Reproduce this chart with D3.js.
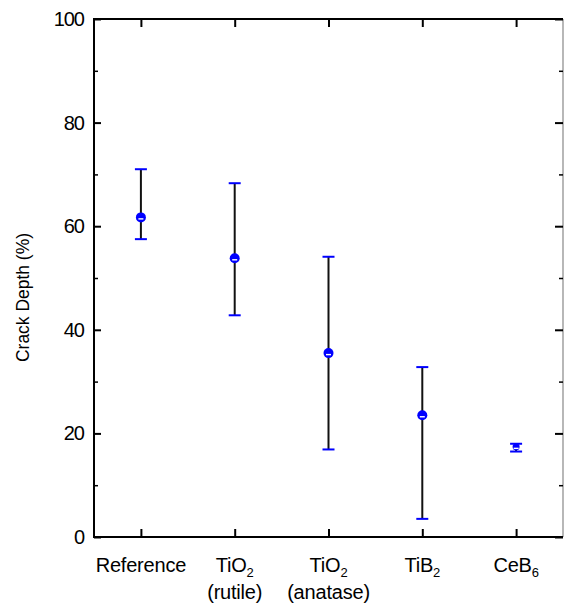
<!DOCTYPE html>
<html>
<head>
<meta charset="utf-8">
<script src="https://cdn.jsdelivr.net/npm/d3@7"></script>
<style>
  html, body { margin: 0; padding: 0; background: #fff; }
  svg { display: block; }
  text { font-family: "Liberation Sans", Arial, sans-serif; fill: #000; }
</style>
</head>
<body>
<svg id="chart" width="564" height="606"></svg>
<script>
// ---- data ----
const categories = ["Reference", "TiO2 (rutile)", "TiO2 (anatase)", "TiB2", "CeB6"];
const labelMain = ["Reference", "TiO", "TiO", "TiB", "CeB"];
const labelSub = ["", "2", "2", "2", "6"];
const labelLine2 = ["", "(rutile)", "(anatase)", "", ""];
const meanValues = [61.7, 53.8, 35.5, 23.5, 17.4];
const upperValues = [71.0, 68.3, 54.1, 32.8, 18.0];
const lowerValues = [57.5, 42.8, 16.9, 3.5, 16.5];
const yMajorTicks = [0, 20, 40, 60, 80, 100];
const yMinorTicks = [10, 30, 50, 70, 90];
const yTitle = "Crack Depth (%)";

// ---- layout ----
const svg = d3.select("#chart");
const mLeft = 94, mRight = 563, mTop = 19, mBottom = 537;

const x = d3.scaleLinear().domain([0.5, categories.length + 0.5]).range([mLeft, mRight]);
const y = d3.scaleLinear().domain([0, 100]).range([mBottom, mTop]);

const idx = categories.map((d, i) => i + 1);

// frame
svg.append("line").attr("x1", mLeft).attr("x2", mRight).attr("y1", mTop).attr("y2", mTop)
  .attr("stroke", "#000").attr("stroke-width", 2);
svg.append("line").attr("x1", mRight).attr("x2", mRight).attr("y1", mTop).attr("y2", mBottom)
  .attr("stroke", "#888").attr("stroke-width", 1.2);

// left axis (ticks inward)
const gy = svg.append("g").attr("transform", `translate(${mLeft},0)`)
  .call(d3.axisRight(y).tickValues(yMajorTicks).tickSize(7).tickFormat(""));
gy.select(".domain").remove();
gy.selectAll("line").attr("stroke", "#000").attr("stroke-width", 2);
const gyMinor = svg.append("g").attr("transform", `translate(${mLeft},0)`)
  .call(d3.axisRight(y).tickValues(yMinorTicks).tickSize(4).tickFormat(""));
gyMinor.select(".domain").remove();
gyMinor.selectAll("line").attr("stroke", "#000").attr("stroke-width", 1.5);
svg.append("line").attr("x1", mLeft).attr("x2", mLeft).attr("y1", mTop - 1).attr("y2", mBottom + 1)
  .attr("stroke", "#000").attr("stroke-width", 2);

// y tick labels
svg.append("g").selectAll("text").data(yMajorTicks).join("text")
  .attr("x", mLeft - 10).attr("y", d => y(d)).attr("dy", "0.35em")
  .attr("text-anchor", "end").attr("font-size", 20).attr("letter-spacing", -1)
  .text(d => d);

// right axis (ticks inward)
const gr = svg.append("g").attr("transform", `translate(${mRight},0)`)
  .call(d3.axisLeft(y).tickValues(yMajorTicks).tickSize(8).tickFormat(""));
gr.select(".domain").remove();
gr.selectAll("line").attr("stroke", "#000").attr("stroke-width", 2);
const grMinor = svg.append("g").attr("transform", `translate(${mRight},0)`)
  .call(d3.axisLeft(y).tickValues(yMinorTicks).tickSize(4).tickFormat(""));
grMinor.select(".domain").remove();
grMinor.selectAll("line").attr("stroke", "#000").attr("stroke-width", 1.5);

// bottom axis (ticks inward)
const gb = svg.append("g").attr("transform", `translate(0,${mBottom})`)
  .call(d3.axisTop(x).tickValues(idx).tickSize(8).tickFormat(""));
gb.select(".domain").remove();
gb.selectAll("line").attr("stroke", "#000").attr("stroke-width", 2);
svg.append("line").attr("x1", mLeft - 1).attr("x2", mRight).attr("y1", mBottom).attr("y2", mBottom)
  .attr("stroke", "#000").attr("stroke-width", 2);

// top axis ticks
const gt = svg.append("g").attr("transform", `translate(0,${mTop})`)
  .call(d3.axisBottom(x).tickValues(idx).tickSize(8).tickFormat(""));
gt.select(".domain").remove();
gt.selectAll("line").attr("stroke", "#000").attr("stroke-width", 2);

// x labels
const xl = svg.append("g").selectAll("g").data(idx).join("g")
  .attr("transform", d => `translate(${x(d)},0)`);
const t1 = xl.append("text").attr("y", 572).attr("text-anchor", "middle")
  .attr("font-size", 20).attr("letter-spacing", -0.2);
t1.append("tspan").text((d, i) => labelMain[i]);
t1.append("tspan").attr("font-size", 13).attr("dy", 5).text((d, i) => labelSub[i]);
xl.append("text").attr("y", 599).attr("text-anchor", "middle")
  .attr("font-size", 20).attr("letter-spacing", -0.2)
  .text((d, i) => labelLine2[i]);

// y title
svg.append("text")
  .attr("transform", `translate(29,${(233 + 362) / 2}) rotate(-90)`)
  .attr("text-anchor", "middle").attr("font-size", 19)
  .attr("textLength", 129).attr("lengthAdjust", "spacingAndGlyphs")
  .text(yTitle);

// error bars
const eb = svg.append("g").selectAll("g").data(idx).join("g");
eb.append("line")
  .attr("x1", d => x(d)).attr("x2", d => x(d))
  .attr("y1", (d, i) => y(upperValues[i])).attr("y2", (d, i) => y(lowerValues[i]))
  .attr("stroke", "#111").attr("stroke-width", 2);
eb.append("line")
  .attr("x1", d => x(d) - 6).attr("x2", d => x(d) + 6)
  .attr("y1", (d, i) => y(upperValues[i])).attr("y2", (d, i) => y(upperValues[i]))
  .attr("stroke", "#0000ff").attr("stroke-width", 2);
eb.append("line")
  .attr("x1", d => x(d) - 6).attr("x2", d => x(d) + 6)
  .attr("y1", (d, i) => y(lowerValues[i])).attr("y2", (d, i) => y(lowerValues[i]))
  .attr("stroke", "#0000ff").attr("stroke-width", 2);

// markers
eb.append("circle")
  .attr("cx", d => x(d)).attr("cy", (d, i) => y(meanValues[i]))
  .attr("r", (d, i) => i === 4 ? 3.5 : 5)
  .attr("fill", "#0000ff");
eb.append("rect")
  .attr("x", d => x(d) - 2.5).attr("y", (d, i) => y(meanValues[i]) + 0.8)
  .attr("width", 5).attr("height", 1.4)
  .attr("fill", "#fff");
</script>
</body>
</html>
